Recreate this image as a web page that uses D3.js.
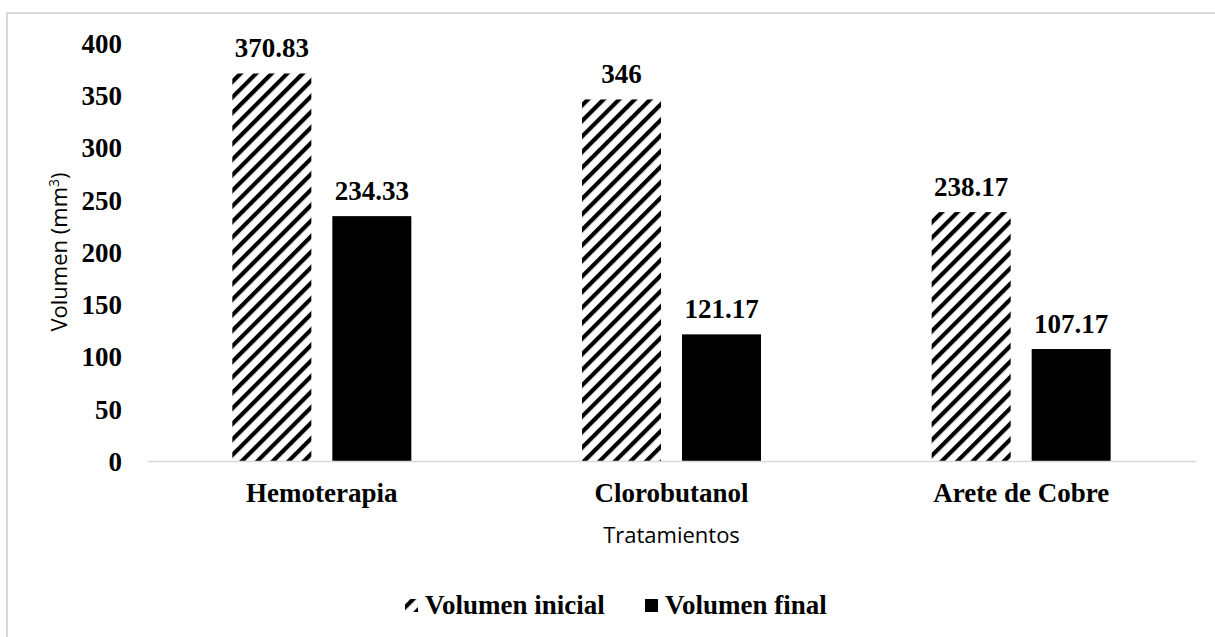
<!DOCTYPE html>
<html>
<head>
<meta charset="utf-8">
<script src="https://cdn.jsdelivr.net/npm/d3@7"></script>
<style>
  html, body { margin: 0; padding: 0; background: #fff; }
  svg { display: block; }
</style>
</head>
<body>
<svg id="chart" width="1215" height="637"></svg>
<script>
// Tumour volume before and after each treatment
const categories = ["Hemoterapia", "Clorobutanol", "Arete de Cobre"];
const seriesNames = ["Volumen inicial", "Volumen final"];
const volumenInicial = [370.83, 346, 238.17];
const volumenFinal = [234.33, 121.17, 107.17];
const valueLabels = [["370.83", "346", "238.17"], ["234.33", "121.17", "107.17"]];
const yTicks = [0, 50, 100, 150, 200, 250, 300, 350, 400];

const series = [volumenInicial, volumenFinal];

const W = 1215, H = 637;
const plot = { left: 147, right: 1196, top: 43, bottom: 461 };

const svg = d3.select("#chart");
const serif = "'Liberation Serif', 'Times New Roman', serif";
const sans = "'Open Sans', 'Lato', sans-serif";
const bigSize = 27;

// diagonal hatch for the initial-volume bars
const defs = svg.append("defs");
const pat = defs.append("pattern")
  .attr("id", "hatch")
  .attr("patternUnits", "userSpaceOnUse")
  .attr("width", 11).attr("height", 11)
  .attr("patternTransform", "rotate(45)");
pat.append("rect").attr("width", 11).attr("height", 11).attr("fill", "#fff");
pat.append("rect").attr("x", 0).attr("y", 0).attr("width", 4.2).attr("height", 11).attr("fill", "#000");

// outer frame
svg.append("path")
  .attr("d", `M${7},${H} L${7},${13} L${W},${13}`)
  .attr("fill", "none").attr("stroke", "#d9d9d9").attr("stroke-width", 2);

const x = d3.scaleBand().domain(categories).range([plot.left, plot.right]).paddingInner(0).paddingOuter(0);
const y = d3.scaleLinear().domain([0, 400]).range([plot.bottom, plot.top]);

const barW = 79, gap = 21;
const offsets = [-(gap / 2 + barW), gap / 2];
const fills = ["url(#hatch)", "#000"];

series.forEach((vals, si) => {
  svg.append("g").selectAll("rect")
    .data(vals)
    .join("rect")
    .attr("x", (d, i) => x(categories[i]) + x.bandwidth() / 2 + offsets[si])
    .attr("y", d => y(d))
    .attr("width", barW)
    .attr("height", d => y(0) - y(d))
    .attr("fill", fills[si]);

  svg.append("g").selectAll("text")
    .data(vals)
    .join("text")
    .attr("x", (d, i) => x(categories[i]) + x.bandwidth() / 2 + offsets[si] + barW / 2)
    .attr("y", d => y(d) - 16)
    .attr("text-anchor", "middle")
    .attr("font-family", serif).attr("font-weight", "bold").attr("font-size", bigSize)
    .text((d, i) => valueLabels[si][i]);
});

// y axis (labels only)
const yAxis = d3.axisLeft(y).tickValues(yTicks).tickSize(0).tickPadding(0).tickFormat(d3.format("d"));
const gy = svg.append("g").attr("transform", `translate(${122},0)`).call(yAxis);
gy.select(".domain").remove();
gy.selectAll("text")
  .attr("font-family", serif).attr("font-weight", "bold").attr("font-size", bigSize)
  .attr("fill", "#000").attr("dy", "0.35em");

// x axis
const xAxis = d3.axisBottom(x).tickSize(0).tickPadding(0);
const gx = svg.append("g").attr("transform", `translate(0,${plot.bottom})`).call(xAxis);
gx.select(".domain").attr("stroke", "#d9d9d9").attr("stroke-width", 1.5);
gx.selectAll("text")
  .attr("font-family", serif).attr("font-weight", "bold").attr("font-size", bigSize)
  .attr("fill", "#000").attr("y", 41).attr("dy", 0);

// axis titles
const yt = svg.append("text")
  .attr("transform", `translate(${67},${252}) rotate(-90)`)
  .attr("text-anchor", "middle")
  .attr("font-family", sans).attr("font-size", 22).attr("fill", "#000");
yt.append("tspan").text("Volumen (mm");
yt.append("tspan").attr("font-size", 14).attr("dy", -8).text("3");
yt.append("tspan").attr("dy", 8).text(")");

svg.append("text")
  .attr("x", (plot.left + plot.right) / 2).attr("y", 543)
  .attr("text-anchor", "middle")
  .attr("font-family", sans).attr("font-size", 22).attr("fill", "#000")
  .text("Tratamientos");

// legend
const legend = svg.append("g").attr("transform", `translate(0,605)`);
const items = [
  { x: 425, label: seriesNames[0], fill: "url(#hatch)" },
  { x: 665, label: seriesNames[1], fill: "#000" }
];
items.forEach(it => {
  legend.append("rect").attr("x", it.x - 20).attr("y", -6).attr("width", 13).attr("height", 13).attr("fill", it.fill);
  legend.append("text").attr("x", it.x).attr("y", 0).attr("dy", "0.35em")
    .attr("font-family", serif).attr("font-weight", "bold").attr("font-size", bigSize)
    .text(it.label);
});
</script>
</body>
</html>
